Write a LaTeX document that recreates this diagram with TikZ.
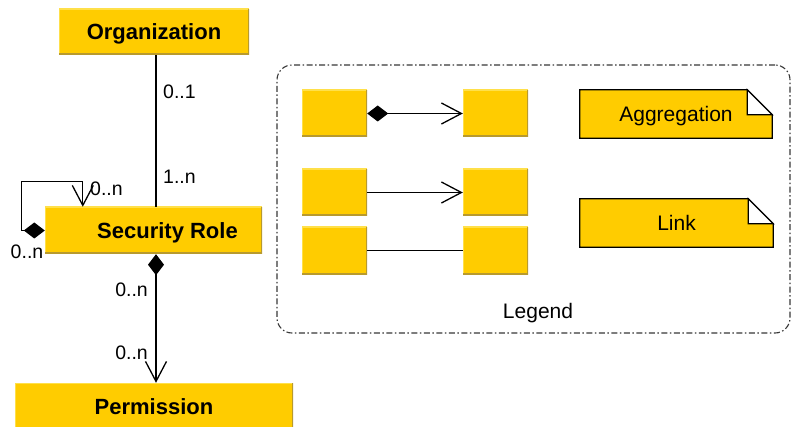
\documentclass[tikz,border=0pt]{standalone}
\usepackage{fontspec}
\setmainfont{Liberation Sans}
\usetikzlibrary{arrows.meta}
\definecolor{boxyellow}{HTML}{FFCC00}
\definecolor{boxdark}{HTML}{B89A2E}
\definecolor{boxlight}{HTML}{FFE04A}
\definecolor{framegray}{HTML}{383838}
\newcommand\classfont{\fontsize{22}{26}\selectfont\bfseries}
\newcommand\multfont{\fontsize{19.5}{23}\selectfont}
\newcommand\notefont{\fontsize{21}{25}\selectfont}
\begin{document}
\begin{tikzpicture}[x=1pt,y=-1pt,
  ybox/.style={rectangle, inner sep=0pt, fill=boxyellow, font=\classfont, text depth=0pt,
    path picture={
      \draw[boxlight, line width=2pt] (path picture bounding box.south west)
        -- (path picture bounding box.north west) -- (path picture bounding box.north east);
      \draw[boxdark, line width=3pt] (path picture bounding box.north east)
        -- (path picture bounding box.south east) -- (path picture bounding box.south west);
    }},
  mult/.style={font=\multfont, inner sep=0pt},
  conn/.style={draw=black, line width=1.3pt},
  agg/.style={conn, {Diamond[length=21pt,width=16pt,fill=black]}-{Straight Barb[length=20pt,width=21pt]}},
  nav/.style={conn, -{Straight Barb[length=20pt,width=21pt]}},
  noteshape/.style={rectangle, inner sep=0pt, minimum height=48pt},
  notetext/.style={font=\notefont, inner sep=0pt, text depth=0pt},
  frame/.style={draw=framegray, line width=1.1pt, rounded corners=15pt,
    dash pattern=on 6pt off 2.5pt on 1.5pt off 2.5pt},
]
\useasboundingbox (0,0) rectangle (791,427);

% legend frame
\node[frame, minimum width=513pt, minimum height=268pt, inner sep=0pt] (legend) at (533.5,199) {};
\node[notetext] (legendtitle) at (538,311) {Legend};

% classes
\node[ybox, minimum width=190pt, minimum height=46pt] (org) at (154,32) {Organization};
\node[ybox, minimum width=217pt, minimum height=47pt] (role) at (153.5,230.5) {\hspace*{28pt}Security Role};
\node[ybox, minimum width=278pt, minimum height=48pt] (perm) at (154,407) {Permission};

% associations
\draw[conn] ([xshift=2pt]org.south) -- ([xshift=2.5pt]role.north);
\node[mult, anchor=west] (m01) at (163,92) {0..1};
\node[mult, anchor=west] (m1n) at (163,177) {1..n};

\draw[agg] (role.west) -- ++(-23,0) -- ++(0,-49) -| ([xshift=38pt]role.north west);
\node[mult, anchor=west] (mself1) at (90,189) {0..n};
\node[mult] (mself2) at (27,252) {0..n};

\draw[agg] ([xshift=2.5pt]role.south) -- ([xshift=2pt]perm.north);
\node[mult, anchor=east] (mperm1) at (148,290) {0..n};
\node[mult, anchor=east] (mperm2) at (148,353) {0..n};

% legend samples
\foreach \n/\y in {1/113.5, 2/192.5, 3/250.5} {
  \node[ybox, minimum width=65pt, minimum height=47pt] (a\n) at (334.5,\y) {};
  \node[ybox, minimum width=65pt, minimum height=47pt] (b\n) at (495.5,\y) {};
}
\draw[agg] (a1.east) -- (b1.west);
\draw[nav] (a2.east) -- (b2.west);
\draw[conn] (a3.east) -- (b3.west);

% legend notes: folded-corner shape first, text on top
\node[noteshape, minimum width=192pt] (aggnote) at (676,114) {};
\node[noteshape, minimum width=193pt] (linknote) at (676.5,223) {};
\foreach \nt in {aggnote, linknote} {
  \filldraw[fill=boxyellow, draw=black, line width=1.2pt, line join=miter]
    (\nt.north west) -- ([xshift=-25pt]\nt.north east) -- ([yshift=-25pt]\nt.north east)
    -- (\nt.south east) -- (\nt.south west) -- cycle;
  \filldraw[fill=white, draw=black, line width=1.2pt, line join=miter]
    ([xshift=-25pt]\nt.north east) -- ([xshift=-25pt,yshift=-25pt]\nt.north east)
    -- ([yshift=-25pt]\nt.north east) -- cycle;
}
\node[notetext] (aggtext) at (aggnote.center) {Aggregation};
\node[notetext] (linktext) at (linknote.center) {Link};
\end{tikzpicture}
\end{document}
